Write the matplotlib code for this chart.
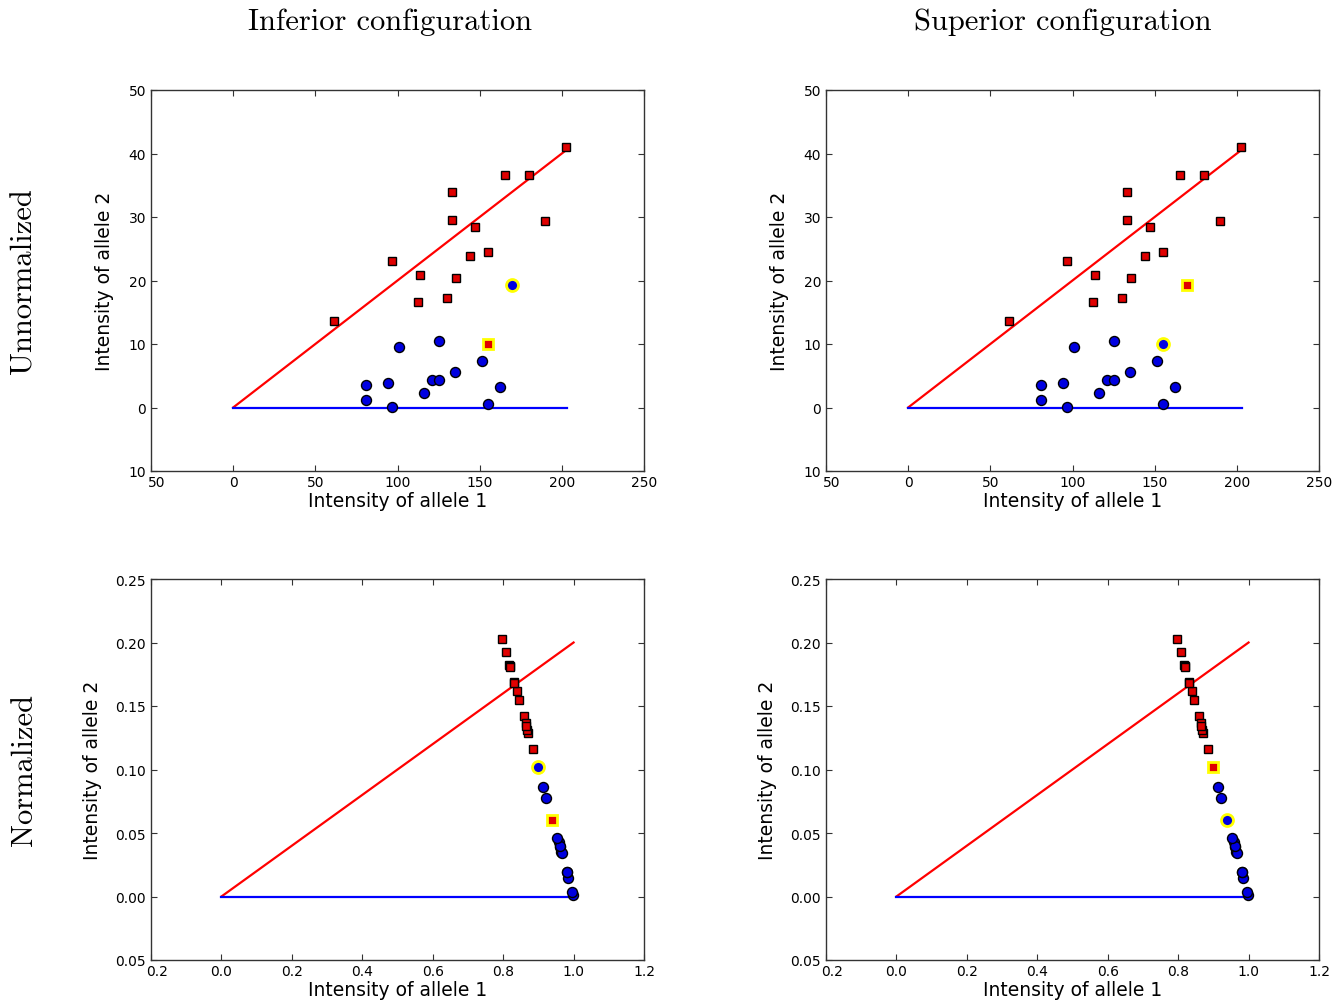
import numpy as np
import matplotlib
matplotlib.use("Agg")
import matplotlib.pyplot as plt
from matplotlib.ticker import FuncFormatter, MultipleLocator
from matplotlib.transforms import ScaledTranslation

# Unnormalized intensities
# red squares
red_x = [61.5, 96.7, 113.6, 112.2, 133.4, 133.4, 135.4, 130.4, 143.9, 147.1,
         155.0, 165.7, 180.1, 190.0, 202.4]
red_y = [13.7, 23.0, 20.8, 16.6, 33.9, 29.6, 20.4, 17.2, 23.8, 28.4,
         24.5, 36.6, 36.6, 29.4, 41.0]
# blue circles
blue_x = [81.0, 81.0, 94.3, 96.5, 101.0, 115.9, 120.8, 125.1, 125.1, 134.7,
          151.3, 162.1, 155.0]
blue_y = [3.6, 1.2, 3.8, 0.1, 9.5, 2.3, 4.4, 4.4, 10.5, 5.6,
          7.3, 3.2, 0.6]
# the two highlighted points, whose labels swap between configurations
pt_a = (155.0, 10.0)   # red in inferior, blue in superior
pt_b = (169.8, 19.3)   # blue in inferior, red in superior

# cluster centre lines
line_x = [0, 203]
red_line_y = [0, 40.6]
blue_line_y = [0, 0]
norm_line_x = [0, 1.0]
norm_red_line_y = [0, 0.2]
norm_blue_line_y = [0, 0]

col_titles = ["Inferior configuration", "Superior configuration"]
row_titles = ["Unnormalized", "Normalized"]

TICK_SIZE = 10


def normalize(x, y):
    x = np.asarray(x, float)
    y = np.asarray(y, float)
    s = x + y
    return x / s, y / s


# the original tick labels lost their minus sign (value shown without it)
def fmt(spec):
    return FuncFormatter(lambda v, p: spec % abs(v))


W, H = 1341, 1003
fig = plt.figure(figsize=(W / 100, H / 100), dpi=100)

def rect(l, t, r, b):
    return [l / W, 1 - b / H, (r - l) / W, (b - t) / H]

rects = {
    (0, 0): rect(151, 91, 644, 472),
    (0, 1): rect(826, 91, 1319, 472),
    (1, 0): rect(151, 580, 644, 961),
    (1, 1): rect(826, 580, 1319, 961),
}

sq = dict(marker="s", ls="none", mfc="#e00000", mec="black", ms=5.4, mew=1.0)
ci = dict(marker="o", ls="none", mfc="#0000e0", mec="black", ms=7.2, mew=1.0)
sq_hi = {**sq, "mec": "yellow", "mew": 2.0, "ms": 6.6}
ci_hi = {**ci, "mec": "yellow", "mew": 2.0, "ms": 8.6}


def panel(ax, row, col):
    if row == 0:
        rx, ry = np.array(red_x), np.array(red_y)
        bx, by = np.array(blue_x), np.array(blue_y)
        a, b = pt_a, pt_b
        lx, lry, lby = line_x, red_line_y, blue_line_y
    else:
        rx, ry = normalize(red_x, red_y)
        bx, by = normalize(blue_x, blue_y)
        a = tuple(v[0] for v in normalize([pt_a[0]], [pt_a[1]]))
        b = tuple(v[0] for v in normalize([pt_b[0]], [pt_b[1]]))
        lx, lry, lby = norm_line_x, norm_red_line_y, norm_blue_line_y

    ax.plot(lx, lry, color="red", lw=1.6, zorder=1)
    ax.plot(lx, lby, color="blue", lw=1.6, zorder=1)
    ax.plot(rx, ry, zorder=3, **sq)
    ax.plot(bx, by, zorder=3, **ci)

    sq_pt, ci_pt = (a, b) if col == 0 else (b, a)
    ax.plot([sq_pt[0]], [sq_pt[1]], zorder=4, **sq_hi)
    ax.plot([ci_pt[0]], [ci_pt[1]], zorder=4, **ci_hi)

    if row == 0:
        ax.set_xlim(-50, 250)
        ax.set_ylim(-10, 50)
        ax.xaxis.set_major_locator(MultipleLocator(50))
        ax.yaxis.set_major_locator(MultipleLocator(10))
        ax.xaxis.set_major_formatter(fmt("%d"))
        ax.yaxis.set_major_formatter(fmt("%d"))
        ax.yaxis.set_label_coords(-0.076, 0.5)
    else:
        ax.set_xlim(-0.2, 1.2)
        ax.set_ylim(-0.05, 0.25)
        ax.xaxis.set_major_locator(MultipleLocator(0.2))
        ax.yaxis.set_major_locator(MultipleLocator(0.05))
        ax.xaxis.set_major_formatter(fmt("%.1f"))
        ax.yaxis.set_major_formatter(fmt("%.2f"))
        ax.yaxis.set_label_coords(-0.100, 0.5)

    ax.set_xlabel("Intensity of allele 1", fontsize=13.5)
    ax.set_ylabel("Intensity of allele 2", fontsize=13.5)
    ax.xaxis.set_label_coords(0.5, -0.052)
    ax.tick_params(direction="in", top=True, right=True, length=4, width=0.8,
                   labelsize=TICK_SIZE, color="#333333")
    ax.tick_params(axis="x", pad=3)
    ax.tick_params(axis="y", pad=3.5)
    for s in ax.spines.values():
        s.set_linewidth(1.0)
        s.set_color("#333333")

    # the leftmost x label sits where "-50" would be centred, minus unseen
    locs = ax.xaxis.get_majorticklocs()
    ticks = ax.xaxis.get_major_ticks(len(locs))
    shift = ScaledTranslation(0.5 * 0.838 * TICK_SIZE / 72, 0, fig.dpi_scale_trans)
    for loc, tick in zip(locs, ticks):
        if loc < -1e-9:
            tick.label1.set_transform(tick.label1.get_transform() + shift)


for (row, col), r in rects.items():
    ax = fig.add_axes(r)
    panel(ax, row, col)

fig.text(390 / W, 1 - 22 / H, col_titles[0], family="cmr10", fontsize=22,
         ha="center", va="center")
fig.text(1063 / W, 1 - 22 / H, col_titles[1], family="cmr10", fontsize=22,
         ha="center", va="center")
fig.text(24 / W, 1 - 281 / H, row_titles[0], family="cmr10", fontsize=22,
         ha="center", va="center", rotation=90)
fig.text(24 / W, 1 - 770 / H, row_titles[1], family="cmr10", fontsize=22,
         ha="center", va="center", rotation=90)

fig.savefig("out.png", dpi=100)
